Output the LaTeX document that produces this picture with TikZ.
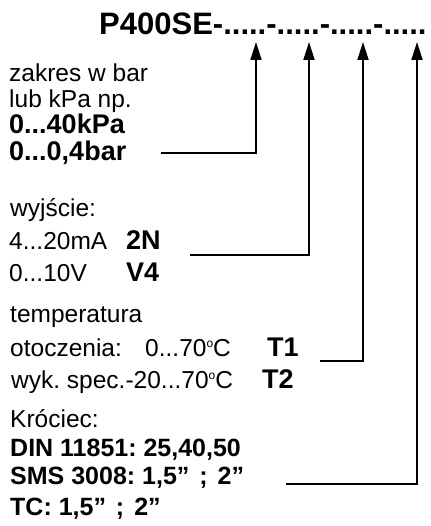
\documentclass[tikz,border=0pt]{standalone}
\usepackage{fontspec}
\setmainfont{Liberation Sans}
\usetikzlibrary{arrows.meta}
\frenchspacing

\newcommand{\degC}{\raisebox{8.5pt}{\fontsize{12}{12}\selectfont o}C}

\tikzset{
  txt/.style={anchor=base west, inner sep=0pt, font=\fontsize{24.5}{28}\selectfont},
  bld/.style={anchor=base west, inner sep=0pt, font=\fontsize{25}{28}\selectfont\bfseries},
  big/.style={anchor=base west, inner sep=0pt, font=\fontsize{27}{30}\selectfont\bfseries},
  conn/.style={->, line width=1.8pt}
}

\begin{document}
\begin{tikzpicture}[x=1pt, y=-1pt, >={Triangle[length=18pt,width=11pt]}]
  \useasboundingbox (0,0) rectangle (430,526);
  % type code
  \node[anchor=base west, inner sep=0pt, font=\fontsize{31}{34}\selectfont\bfseries] (title) at (99,35) {P400SE-.....-.....-.....-.....};
  \coordinate (a1) at (256,42);
  \coordinate (a2) at (309,42);
  \coordinate (a3) at (363,42);
  \coordinate (a4) at (417,42);
  % range
  \node[txt] (range1) at (9,82) {zakres w bar};
  \node[txt] (range2) at (9,108) {lub kPa np.};
  \node[big] (range3) at (9,134) {0...40kPa};
  \node[big] (range4) at (9,161) {0...0,4bar};
  \coordinate (s1) at (161,153);
  % output
  \node[txt] (out1) at (10,217) {wyjście:};
  \node[txt] (out2) at (9,249) {4...20mA};
  \node[big] (out2c) at (126,249) {2N};
  \node[txt] (out3) at (9,281) {0...10V};
  \node[big] (out3c) at (126,281) {V4};
  \coordinate (s2) at (190,255);
  % temperature
  \node[txt] (temp1) at (10,322) {temperatura};
  \node[txt] (temp2) at (10,356) {otoczenia:};
  \node[txt] (temp2v) at (145,356) {0...70\degC};
  \node[big] (temp2c) at (267,356) {T1};
  \node[txt] (temp3) at (11,388) {wyk. spec.-20...70\degC};
  \node[big] (temp3c) at (262,388) {T2};
  \coordinate (s3) at (320,361);
  % connection
  \node[txt] (conn1) at (10,427) {Króciec:};
  \node[bld] (conn2) at (10,456) {DIN 11851: 25,40,50};
  \node[bld] (conn3) at (10,484) {SMS 3008: 1,5”\hspace{3pt} ;\hspace{3pt} 2”};
  \node[bld] (conn4) at (10,515) {TC: 1,5”\hspace{3pt} ;\hspace{3pt} 2”};
  \coordinate (s4) at (286,484);
  % leaders
  \draw[conn] (s1) -| (a1);
  \draw[conn] (s2) -| (a2);
  \draw[conn] (s3) -| (a3);
  \draw[conn] (s4) -| (a4);
\end{tikzpicture}
\end{document}
